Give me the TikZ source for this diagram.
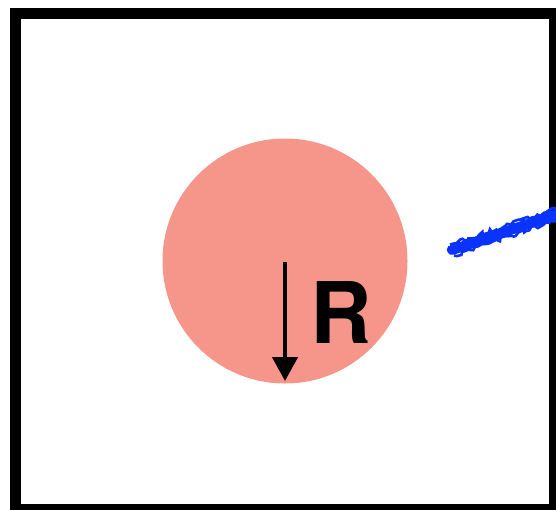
\documentclass[tikz,border=0pt]{standalone}
\usepackage{fontspec}
\setmainfont{TeX Gyre Heros}
\usetikzlibrary{arrows.meta,decorations.pathmorphing}
\definecolor{salmon}{HTML}{F6958A}
\definecolor{scribble}{HTML}{0A33FF}
\begin{document}
\begin{tikzpicture}[x=1pt,y=-1pt,
  frame/.style={draw=black,line width=11pt},
  disc/.style={fill=salmon,draw=none},
  radius arrow/.style={line width=4.5pt,-{Triangle[length=24pt,width=25pt]}},
  stroke/.style={draw=scribble,line cap=round},
  rough/.style={draw=scribble,line width=2.6pt,decorate,decoration={random steps,segment length=3pt,amplitude=2pt}}]
\useasboundingbox (0,0) rectangle (556,509);
\begin{scope}
\clip (0,0) rectangle (556,509);
\draw[frame] (15.5,13.5) rectangle (554.5,509.5);
\end{scope}
\fill[disc] (285,261) circle[radius=122.5];
\coordinate (c) at (285,262);
\coordinate (e) at (285,381);
\draw[radius arrow] (c) -- (e);
\node[font=\bfseries\fontsize{85}{85}\selectfont,inner sep=0pt] (r) at (341,313) {R};
\begin{scope}
\clip (0,0) rectangle (556,509);
\coordinate (b1) at (452,250);
\coordinate (b2) at (560,213);
\draw[stroke,line width=10pt] (b1) -- (b2);
\draw[rough] ([yshift=-5.5pt,xshift=2pt]b1) -- ([yshift=-5.5pt]b2);
\draw[rough] ([yshift=5.5pt,xshift=-2pt]b1) -- ([yshift=5.5pt]b2);
\draw[rough] ([yshift=-3pt,xshift=-3pt]b1) -- ([yshift=-3pt]b2);
\draw[rough] ([yshift=3pt,xshift=-4pt]b1) -- ([yshift=2pt]b2);
\draw[rough] ([xshift=-5pt]b1) -- (b2);
\end{scope}
\end{tikzpicture}
\end{document}
